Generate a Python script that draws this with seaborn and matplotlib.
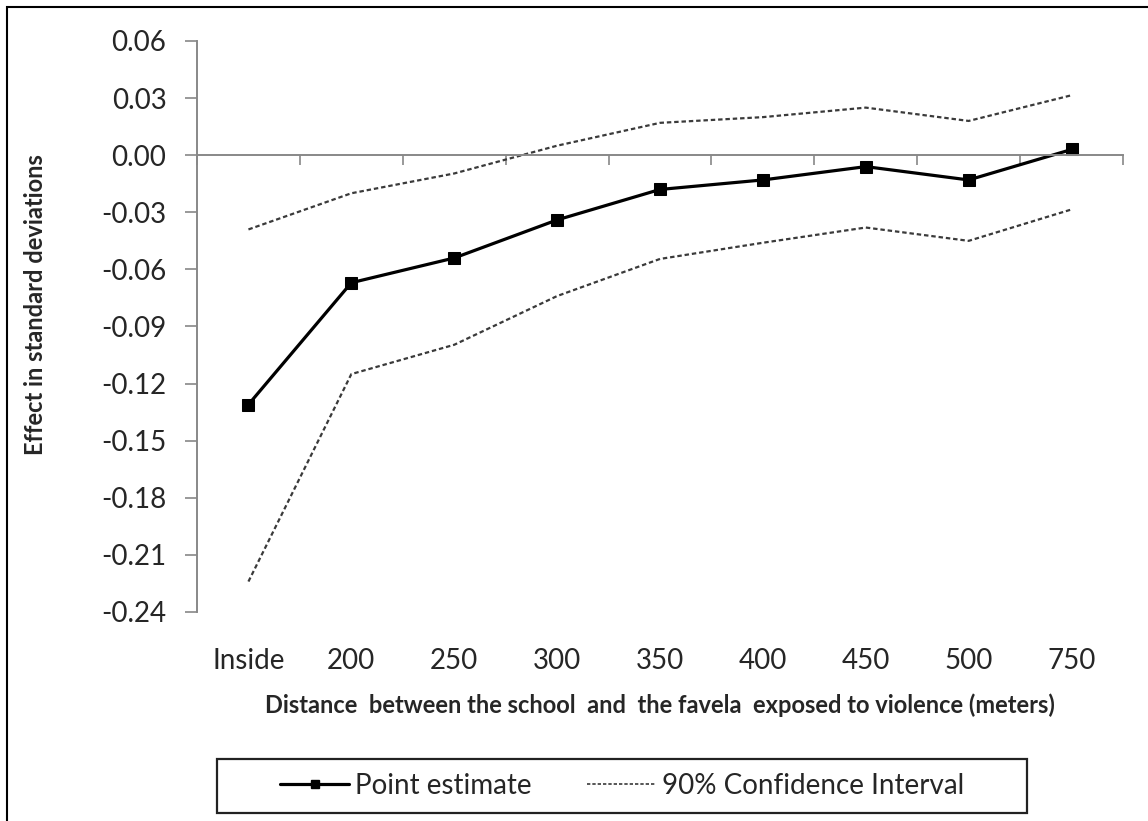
import numpy as np
import pandas as pd
import seaborn as sns
import matplotlib.pyplot as plt
from matplotlib.lines import Line2D
from matplotlib.patches import Rectangle

# dados
distancias = ["Inside", "200", "250", "300", "350", "400", "450", "500", "750"]
estimativa = [-0.131, -0.067, -0.054, -0.034, -0.018, -0.013, -0.006, -0.013, 0.003]
ic_superior = [-0.039, -0.020, -0.0096, 0.005, 0.017, 0.020, 0.025, 0.018, 0.0315]
ic_inferior = [-0.224, -0.115, -0.0996, -0.074, -0.0545, -0.046, -0.038, -0.045, -0.0285]
y_ticks = [0.06, 0.03, 0.00, -0.03, -0.06, -0.09, -0.12, -0.15, -0.18, -0.21, -0.24]

df = pd.DataFrame({
    "Distancia": distancias,
    "Estimativa": estimativa,
    "IC sup": ic_superior,
    "IC inf": ic_inferior,
})

sns.set_style("white")
plt.rcParams["font.family"] = ["Lato", "DejaVu Sans"]

fig = plt.figure(figsize=(11.48, 8.21), dpi=100)
ax = fig.add_axes([197 / 1148, 1 - 612 / 821, (1123 - 197) / 1148, (612 - 41) / 821])

cinza = "#888888"
tracejado = (0, (2.0, 1.3))

sns.lineplot(data=df, x="Distancia", y="IC sup", sort=False, color="#3a3a3a",
             linewidth=1.6, linestyle=tracejado, ax=ax)
sns.lineplot(data=df, x="Distancia", y="IC inf", sort=False, color="#3a3a3a",
             linewidth=1.6, linestyle=tracejado, ax=ax)
sns.lineplot(data=df, x="Distancia", y="Estimativa", sort=False, color="black",
             linewidth=2.3, marker="s", markersize=8.5, markeredgecolor="black", ax=ax)

ax.set_xlim(-0.5, len(distancias) - 0.5)
ax.set_ylim(min(y_ticks), max(y_ticks))

# eixo x cruzando em zero, com marcas entre as categorias
for lado in ["top", "right"]:
    ax.spines[lado].set_visible(False)
ax.spines["bottom"].set_position(("data", 0))
ax.spines["bottom"].set_color(cinza)
ax.spines["bottom"].set_linewidth(1.4)
ax.spines["left"].set_color(cinza)
ax.spines["left"].set_linewidth(1.4)
ax.set_xticks(np.arange(len(distancias) + 1) - 0.5, labels=[""] * (len(distancias) + 1))
ax.tick_params(axis="x", direction="out", length=7.5, width=1.2, color=cinza, bottom=True)
ax.set_xlabel("")

ax.set_yticks(y_ticks, labels=[f"{v:.2f}".replace("-0.00", "0.00") for v in y_ticks])
ax.tick_params(axis="y", direction="out", length=9, width=1.2, color=cinza, left=True,
               labelsize=20, pad=13)
ax.set_ylabel("Effect in standard deviations", fontsize=17, fontweight="bold")
ax.yaxis.set_label_coords(-0.162, 0.538)

# rótulos das categorias embaixo do gráfico
sec = ax.secondary_xaxis("bottom")
sec.set_xticks(range(len(distancias)), labels=distancias)
sec.tick_params(length=0, labelsize=20, pad=26)
sec.spines["bottom"].set_visible(False)
sec.set_xlabel("Distance  between the school  and  the favela  exposed to violence (meters)",
               fontsize=17, fontweight="bold", labelpad=14)

# legenda com caixa
fig.patches.append(Rectangle((217 / 1148, 1 - 813 / 821), 810 / 1148, 54 / 821,
                             transform=fig.transFigure, fill=False, edgecolor="#222222", lw=1.6))
handles = [
    Line2D([], [], color="black", linewidth=2.3, marker="s", markersize=6),
    Line2D([], [], color="#3a3a3a", linewidth=1.2, linestyle=(0, (2, 1.2))),
]
fig.legend(handles, ["Point estimate", "90% Confidence Interval"], loc="center",
           bbox_to_anchor=(622 / 1148, 1 - 786 / 821), ncol=2, frameon=False,
           fontsize=20, handlelength=2.5, handletextpad=0.2, columnspacing=2.0, numpoints=1)

# moldura externa
fig.patches.append(Rectangle((7 / 1148, -0.1), 1.2, 1.1 - 7 / 821,
                             transform=fig.transFigure, fill=False, edgecolor="black", lw=1.5))

fig.savefig("out.png", dpi=100)
